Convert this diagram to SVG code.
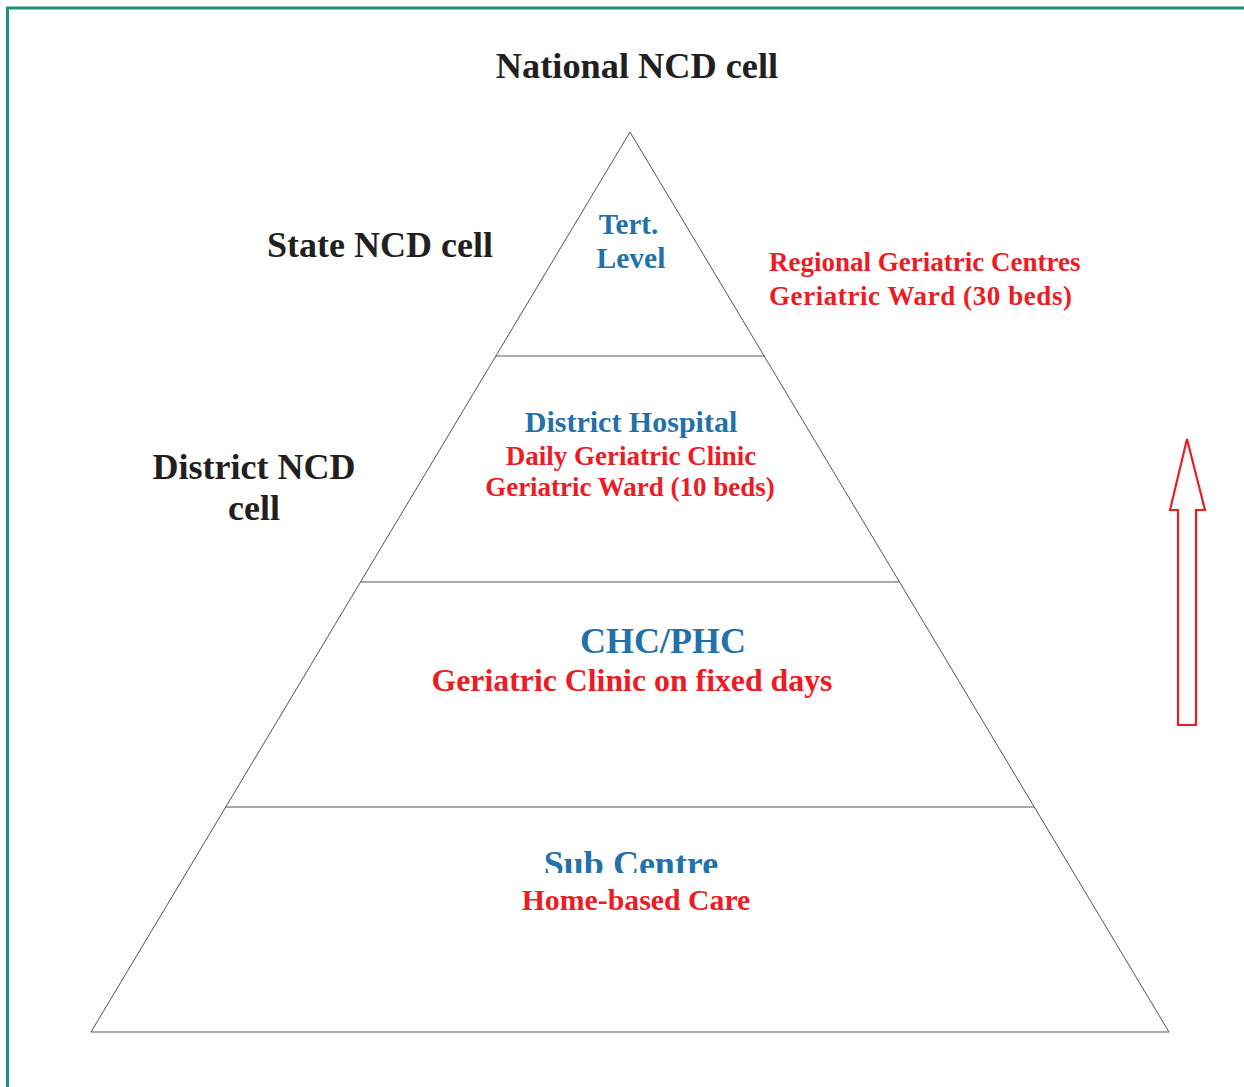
<svg xmlns="http://www.w3.org/2000/svg" width="1244" height="1087" viewBox="0 0 1244 1087">
<style>
.t{font-family:"Liberation Serif","Times New Roman",serif;font-weight:bold;text-anchor:middle}
.blk{fill:#231f20}
.blu{fill:#2271a8}
.red{fill:#ed1c24}
.ln{stroke:#555;stroke-width:1;fill:none}
</style>
<defs>
<clipPath id="subclip"><rect x="400" y="830" width="460" height="43"/></clipPath>
</defs>
<rect width="1244" height="1087" fill="#fff"/>
<path d="M7.5,1087 V8 H1244" fill="none" stroke="#23907f" stroke-width="3"/>
<g id="pyramid">
<polygon class="ln" points="630,132 1169,1032 91,1032"/>
</g>
<g id="connectors">
<line class="ln" x1="496" y1="356" x2="765" y2="356"/>
<line class="ln" x1="360" y1="582" x2="900" y2="582"/>
<line class="ln" x1="226" y1="807" x2="1034" y2="807"/>
</g>
<g id="national"><text class="t blk" x="637" y="78" font-size="36.3">National NCD cell</text></g>
<g id="state"><text class="t blk" x="380" y="257" font-size="36">State NCD cell</text></g>
<g id="district-cell"><text class="t blk" x="254" y="479" font-size="36">District NCD</text><text class="t blk" x="254" y="520" font-size="36">cell</text></g>
<g id="tertiary"><text class="t blu" x="628.5" y="234" font-size="29">Tert.</text><text class="t blu" x="631" y="268" font-size="29.5">Level</text></g>
<g id="regional"><text class="t red" x="769" y="271" font-size="27" style="text-anchor:start">Regional Geriatric Centres</text><text class="t red" x="769" y="305" font-size="27" style="text-anchor:start" textLength="303" lengthAdjust="spacing">Geriatric Ward (30 beds)</text></g>
<g id="district-hospital"><text class="t blu" x="631" y="432" font-size="30">District Hospital</text><text class="t red" x="631" y="465" font-size="27">Daily Geriatric Clinic</text><text class="t red" x="630" y="496" font-size="27">Geriatric Ward (10 beds)</text></g>
<g id="chc"><text class="t blu" x="663" y="653" font-size="36">CHC/PHC</text><text class="t red" x="632" y="691" font-size="31.8">Geriatric Clinic on fixed days</text></g>
<g id="subcentre"><text class="t blu" x="631" y="876" font-size="36" clip-path="url(#subclip)">Sub Centre</text><text class="t red" x="636" y="910" font-size="29.8">Home-based Care</text></g>
<g id="arrow"><polygon points="1187,439 1205,510 1196,510 1196,725 1178,725 1178,510 1170,510" fill="none" stroke="#ed1c24" stroke-width="2.2"/></g>
</svg>
